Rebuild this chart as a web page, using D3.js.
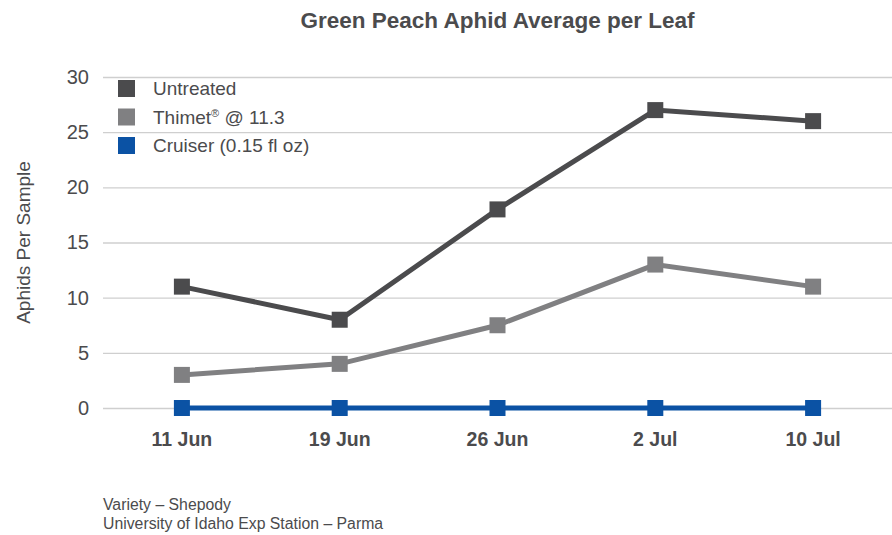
<!DOCTYPE html>
<html><head><meta charset="utf-8">
<script src="https://cdn.jsdelivr.net/npm/d3@7"></script>
<style>body{margin:0;background:#fff}svg{display:block}text{font-family:"Liberation Sans",Arial,sans-serif}</style>
</head><body><svg id="c" width="892" height="535"></svg>
<script>
const categories = ["11 Jun","19 Jun","26 Jun","2 Jul","10 Jul"];
const untreated = [11, 8, 18, 27, 26];
const thimet = [3, 4, 7.5, 13, 11];
const cruiser = [0, 0, 0, 0, 0];
const yTicks = [0,5,10,15,20,25,30];
const seriesNames = ["Untreated","Thimet® @ 11.3","Cruiser (0.15 fl oz)"];
const colors = ["#4b4b4d","#808082","#0b52a4"];

const svg = d3.select("#c");
const W = 892, H = 535;
const m = {left:103, right:0, top:77, bottom:127};
const x = d3.scaleBand().domain(categories).range([m.left, W - m.right]);
const y = d3.scaleLinear().domain([0,30]).range([408, 77]);

svg.append("text").attr("x", (m.left + W)/2).attr("y", 28).attr("text-anchor","middle")
  .attr("font-size", 22.5).attr("font-weight","bold").attr("fill","#4b4b4d").text("Green Peach Aphid Average per Leaf");

// grid
const yAxis = d3.axisLeft(y).tickValues(yTicks).tickSize(-(W - m.left)).tickPadding(14);
const gy = svg.append("g").attr("transform",`translate(${m.left},0)`).call(yAxis);
gy.select(".domain").remove();
gy.selectAll(".tick line").attr("stroke","#cfcfcf").attr("stroke-width",1.3);
gy.selectAll(".tick text").attr("font-size",20).attr("fill","#4b4b4d").attr("font-family","'Liberation Sans',Arial,sans-serif");

const xAxis = d3.axisBottom(x).tickSize(0).tickPadding(24);
const gx = svg.append("g").attr("transform",`translate(0,408)`).call(xAxis);
gx.select(".domain").remove();
gx.selectAll(".tick text").attr("font-size",19.5).attr("font-weight","bold").attr("fill","#4b4b4d").attr("font-family","'Liberation Sans',Arial,sans-serif");

svg.append("text").attr("transform",`translate(30,${(77+408)/2}) rotate(-90)`).attr("text-anchor","middle")
  .attr("font-size",19).attr("fill","#4b4b4d").text("Aphids Per Sample");

const data = [untreated, thimet, cruiser];
const cx = d => x(d) + x.bandwidth()/2;
const line = d3.line().x((d,i)=>cx(categories[i])).y(d=>y(d));
const order = [2,1,0];
order.forEach(k => {
  const g = svg.append("g");
  g.append("path").datum(data[k]).attr("d", line).attr("fill","none").attr("stroke",colors[k]).attr("stroke-width",5).attr("stroke-linejoin","miter");
  g.selectAll("rect").data(data[k]).join("rect")
    .attr("x",(d,i)=>cx(categories[i]) - 8).attr("y",d=>y(d)-8).attr("width",16).attr("height",16).attr("fill",colors[k]);
});

// legend
const lg = svg.append("g");
seriesNames.forEach((n,i) => {
  const yy = 88 + i*28.5;
  lg.append("rect").attr("x",118).attr("y",yy-8).attr("width",17).attr("height",17).attr("fill",colors[i]);
  const t = lg.append("text").attr("x",153).attr("y",yy+7).attr("font-size",19).attr("fill","#4b4b4d");
  if (i === 1) {
    t.append("tspan").text("Thimet");
    t.append("tspan").attr("font-size",11).attr("dy",-7).text("®");
    t.append("tspan").attr("dy",7).text(" @ 11.3");
  } else t.text(n);
});

const notes = ["Variety – Shepody","University of Idaho Exp Station – Parma"];
notes.forEach((n,i)=>{
  svg.append("text").attr("x",103).attr("y",510+i*19).attr("font-size",15.8).attr("fill","#4b4b4d")
    .attr("font-family","'Liberation Sans Narrow','Liberation Sans',Arial,sans-serif").text(n);
});
</script></body></html>
